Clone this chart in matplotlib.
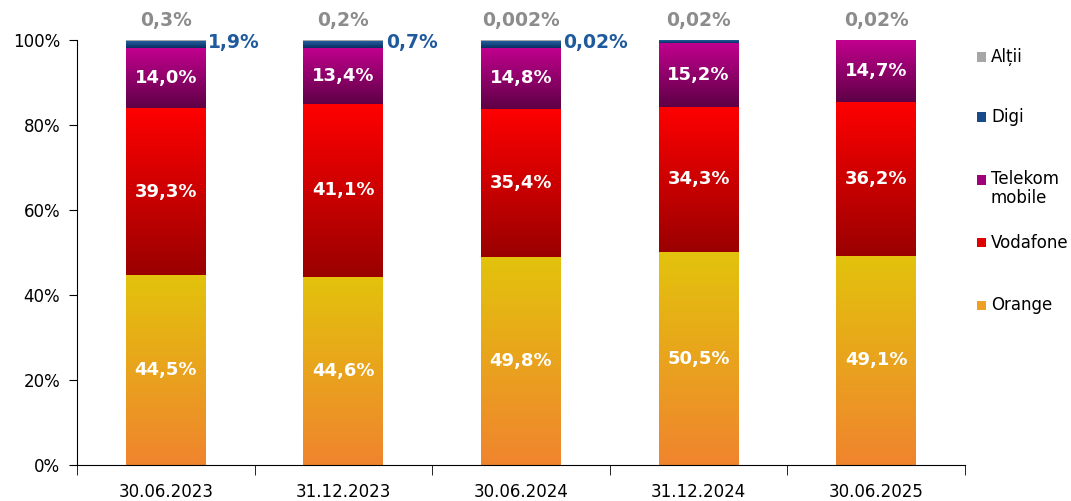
import numpy as np
import matplotlib
matplotlib.use("Agg")
import matplotlib.pyplot as plt
from matplotlib.colors import LinearSegmentedColormap
from matplotlib.patches import Rectangle

categories = ["30.06.2023", "31.12.2023", "30.06.2024", "31.12.2024", "30.06.2025"]

# segment heights (%)
orange = [44.6, 44.3, 48.9, 50.1, 49.2]
vodafone = [39.5, 40.6, 34.9, 34.2, 36.3]
telekom = [14.1, 13.3, 14.4, 15.1, 14.5]
digi = [1.5, 1.5, 1.6, 0.5, 0.0]
altii = [0.3, 0.3, 0.2, 0.1, 0.0]

# printed labels
orange_lbl = ["44,5%", "44,6%", "49,8%", "50,5%", "49,1%"]
vodafone_lbl = ["39,3%", "41,1%", "35,4%", "34,3%", "36,2%"]
telekom_lbl = ["14,0%", "13,4%", "14,8%", "15,2%", "14,7%"]
digi_lbl = ["1,9%", "0,7%", "0,02%", "", ""]
altii_lbl = ["0,3%", "0,2%", "0,002%", "0,02%", "0,02%"]

series = ["Orange", "Vodafone", "Telekom\nmobile", "Digi", "Alții"]
grad = {
    "Orange": ("#F0842E", "#E2C30C"),
    "Vodafone": ("#9A0000", "#FF0000"),
    "Telekom\nmobile": ("#5E0046", "#C2008E"),
    "Digi": ("#0B2C62", "#215F9E"),
    "Alții": ("#A6A6A6", "#A6A6A6"),
}
legend_col = {
    "Orange": "#EFA024",
    "Vodafone": "#E00000",
    "Telekom\nmobile": "#A0007C",
    "Digi": "#184A8A",
    "Alții": "#A6A6A6",
}

fig = plt.figure(figsize=(10.71, 5.01), dpi=100)
ax = fig.add_axes([77 / 1071, 36 / 501, 888 / 1071, 425 / 501])

x = np.arange(len(categories))
width = 0.45
data = [orange, vodafone, telekom, digi, altii]
bottom = np.zeros(len(categories))
grad_img = np.linspace(0, 1, 256).reshape(-1, 1)
for name, vals in zip(series, data):
    vals = np.array(vals)
    bars = ax.bar(x, vals, width, bottom=bottom, color="none", linewidth=0)
    lo, hi = grad[name]
    cmap = LinearSegmentedColormap.from_list(name, [lo, hi])
    for b, v, b0 in zip(bars, vals, bottom):
        if v <= 0:
            continue
        xx = b.get_x()
        im = ax.imshow(grad_img, cmap=cmap, origin="lower", aspect="auto",
                       extent=[xx, xx + width, b0, b0 + v], zorder=2,
                       interpolation="bilinear")
        im.set_clip_path(b)
    bottom = bottom + vals

ax.set_xlim(-0.5, len(categories) - 0.5)
ax.set_ylim(0, 100)

# inside labels
lbl_kw = dict(ha="center", va="center", color="white", fontsize=13,
              fontweight="bold", zorder=5)
b0 = np.zeros(len(categories))
for vals, lbls in [(orange, orange_lbl), (vodafone, vodafone_lbl), (telekom, telekom_lbl)]:
    for i in range(len(categories)):
        ax.text(x[i], b0[i] + vals[i] / 2, lbls[i], **lbl_kw)
    b0 = b0 + np.array(vals)

for i in range(len(categories)):
    ax.text(x[i], 104.7, altii_lbl[i], ha="center", va="center", color="#8C8C8C",
            fontsize=13.5, fontweight="bold", clip_on=False)
    if digi_lbl[i]:
        ax.text(x[i] + width / 2 + 0.015, 99.4, digi_lbl[i], ha="left", va="center",
                color="#1F5A9E", fontsize=13.5, fontweight="bold", clip_on=False)

# axes styling
for s in ["top", "right"]:
    ax.spines[s].set_visible(False)
ax.set_yticks([0, 20, 40, 60, 80, 100])
ax.set_yticklabels(["0%", "20%", "40%", "60%", "80%", "100%"], fontsize=12)
ax.tick_params(axis="y", direction="out", length=6, pad=6)
ax.set_xticks(x)
ax.set_xticklabels(categories, fontsize=12)
ax.tick_params(axis="x", which="major", length=0, pad=13)
ax.set_xticks(np.arange(-0.5, len(categories), 1.0), minor=True)
ax.tick_params(axis="x", which="minor", direction="out", length=7)

# legend (manual)
leg_y = [57, 117, 180, 243, 305]
leg_order = ["Alții", "Digi", "Telekom\nmobile", "Vodafone", "Orange"]
for name, yy in zip(leg_order, leg_y):
    fig.patches.append(Rectangle(((977) / 1071, (501 - yy - 4.5) / 501), 9 / 1071, 9 / 501,
                                 transform=fig.transFigure, facecolor=legend_col[name],
                                 edgecolor="none"))
    two = "\n" in name
    fig.text(991 / 1071, (501 - yy + (10 if two else 0)) / 501, name, ha="left",
             va="top" if two else "center", fontsize=12, linespacing=1.1)

fig.savefig("out.png", dpi=100)
